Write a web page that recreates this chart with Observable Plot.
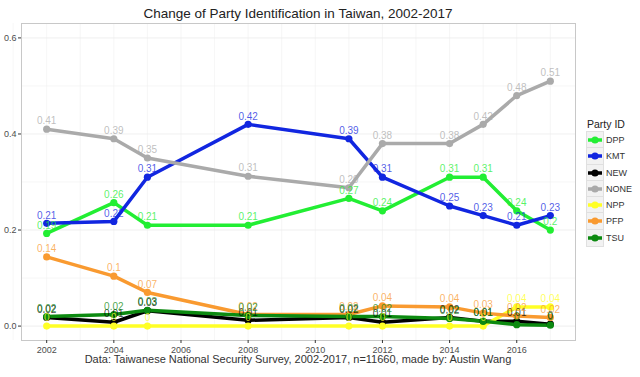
<!DOCTYPE html>
<html>
<head>
<meta charset="utf-8">
<script src="https://cdn.jsdelivr.net/npm/d3@7"></script>
<script src="https://cdn.jsdelivr.net/npm/@observablehq/plot@0.6"></script>
<style>
  body { margin: 0; background: #fff; font-family: "Liberation Sans", Arial, sans-serif; }
  #wrap { position: relative; width: 640px; height: 377px; overflow: hidden; }
  #chart { position: absolute; left: 0; top: 0; }
  #title { position: absolute; left: 21px; width: 554px; top: 6px; text-align: center; font-size: 13.5px; color: #222; }
  #caption { position: absolute; left: 21px; width: 554px; top: 353px; text-align: center; font-size: 11px; color: #333; }
  #legend { position: absolute; left: 587px; top: 116px; color: #222; }
  #legend .lt { font-size: 10.5px; height: 16px; line-height: 16px; }
  #legend .it { display: flex; align-items: center; height: 16.25px; font-size: 9px; color: #333; }
  #legend svg { background: #f2f2f2; outline: 0.5px solid #e0e0e0; margin-right: 3px; }
</style>
</head>
<body>
<div id="wrap">
  <div id="chart"></div>
  <div id="title">Change of Party Identification in Taiwan, 2002-2017</div>
  <div id="caption">Data: Taiwanese National Security Survey, 2002-2017, n=11660, made by: Austin Wang</div>
  <div id="legend"></div>
</div>
<script>
const years = [2002, 2004, 2005, 2008, 2011, 2012, 2014, 2015, 2016, 2017];
const parties = ["DPP", "KMT", "NEW", "NONE", "NPP", "PFP", "TSU"];
const partyColors = ["#22ee33", "#1126e0", "#000000", "#aaaaaa", "#ffff26", "#f99a30", "#0c8a10"];
const legendTitle = "Party ID";
const xTicks = [2002, 2004, 2006, 2008, 2010, 2012, 2014, 2016];
const yTicks = [0, 0.2, 0.4, 0.6];

const dpp  = [0.193, 0.257, 0.21, 0.21, 0.266, 0.24, 0.31, 0.31, 0.24, 0.20];
const kmt  = [0.214, 0.218, 0.31, 0.42, 0.39, 0.31, 0.25, 0.23, 0.21, 0.23];
const newp = [0.018, 0.008, 0.032, 0.012, 0.018, 0.008, 0.018, 0.01, 0.01, 0.004];
const none = [0.41, 0.39, 0.35, 0.312, 0.288, 0.38, 0.38, 0.42, 0.48, 0.51];
const npp  = [0, 0, 0, 0, 0, 0, 0, 0, 0.04, 0.04];
const pfp  = [0.144, 0.104, 0.07, 0.024, 0.024, 0.042, 0.04, 0.027, 0.021, 0.018];
const tsu  = [0.02, 0.024, 0.033, 0.022, 0.02, 0.02, 0.016, 0.01, 0.003, 0.002];

const series = [dpp, kmt, newp, none, npp, pfp, tsu];
const data = parties.flatMap((p, i) => years.map((y, j) => ({party: p, year: y, value: series[i][j]})));
const fmt = v => String(Math.round(v * 100) / 100);

const chart = Plot.plot({
  width: 640,
  height: 377,
  marginLeft: 21,
  marginRight: 65,
  marginTop: 23,
  marginBottom: 37,
  style: {fontFamily: "Liberation Sans, Arial, sans-serif", fontSize: "9px", color: "#4d4d4d", background: "transparent"},
  x: {domain: [2001.25, 2017.75]},
  y: {domain: [-0.03, 0.63]},
  color: {domain: parties, range: partyColors},
  marks: [
    Plot.gridX(d3.range(2001, 2018), {stroke: "#f0f0f0", strokeOpacity: 1, strokeWidth: 0.6}),
    Plot.gridY([0.1, 0.3, 0.5], {stroke: "#f0f0f0", strokeOpacity: 1, strokeWidth: 0.6}),
    Plot.gridY(yTicks, {stroke: "#ebebeb", strokeOpacity: 1, strokeWidth: 0.8}),
    Plot.frame({stroke: "#c8c8c8", strokeWidth: 1}),
    Plot.line(data, {x: "year", y: "value", z: "party", stroke: "party", strokeWidth: 3.5}),
    Plot.dot(data, {x: "year", y: "value", fill: "party", r: 3.6}),
    Plot.text(data, {x: "year", y: "value", text: d => fmt(d.value), fill: "party", fillOpacity: 0.75, dy: -8, fontSize: 10}),
    Plot.axisX({ticks: xTicks, tickFormat: "d", tickSize: 3, tickPadding: 3, label: null, stroke: "#333", color: "#4d4d4d"}),
    Plot.axisY({ticks: yTicks, tickFormat: ".1f", tickSize: 3, tickPadding: 2, label: null, stroke: "#333", color: "#4d4d4d"})
  ]
});
document.getElementById("chart").appendChild(chart);

const leg = document.getElementById("legend");
const lt = document.createElement("div");
lt.className = "lt";
lt.textContent = legendTitle;
leg.appendChild(lt);
parties.forEach((p, i) => {
  const it = document.createElement("div");
  it.className = "it";
  const svg = d3.create("svg").attr("width", 16).attr("height", 16);
  svg.append("line").attr("x1", 1).attr("x2", 15).attr("y1", 8).attr("y2", 8)
    .attr("stroke", partyColors[i]).attr("stroke-width", 3.5);
  svg.append("circle").attr("cx", 8).attr("cy", 8).attr("r", 3.6).attr("fill", partyColors[i]);
  it.appendChild(svg.node());
  const s = document.createElement("span");
  s.textContent = p;
  it.appendChild(s);
  leg.appendChild(it);
});
</script>
</body>
</html>
